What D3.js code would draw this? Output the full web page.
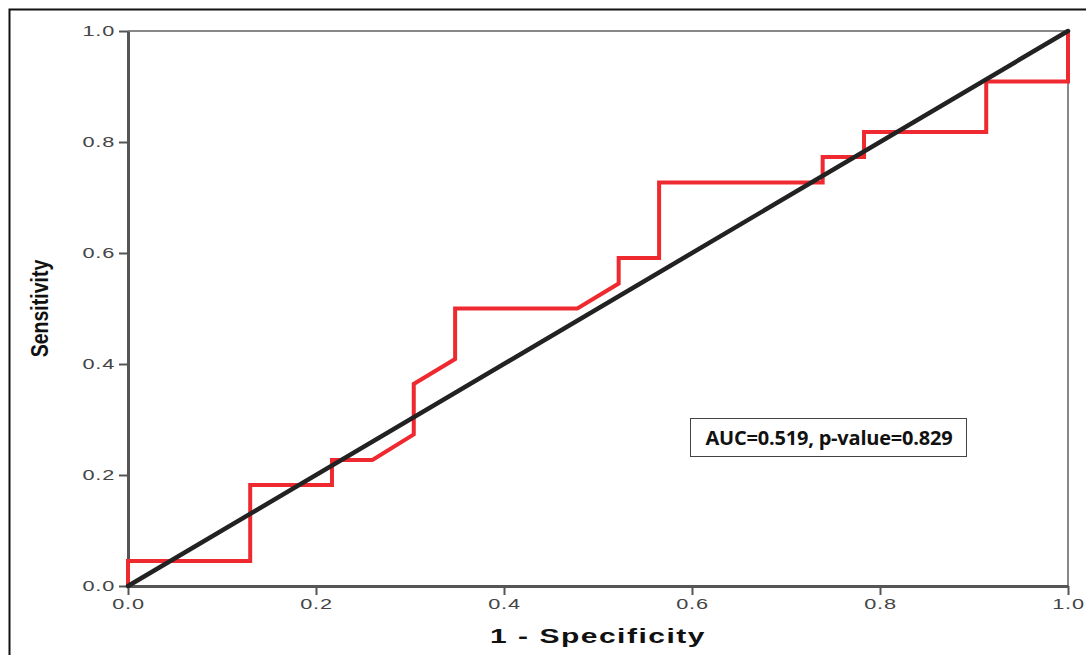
<!DOCTYPE html>
<html>
<head>
<meta charset="utf-8">
<script src="https://cdn.jsdelivr.net/npm/d3@7"></script>
<style>
  body { margin: 0; background: #fff; }
  svg { display: block; }
</style>
</head>
<body>
<div id="chart"></div>
<script>
// ROC curve points (1 - specificity, sensitivity)
var fpr = [0, 0, 0.13, 0.13, 0.217, 0.217, 0.26, 0.304, 0.304, 0.348, 0.348, 0.478, 0.522, 0.522, 0.565, 0.565, 0.739, 0.739, 0.783, 0.783, 0.913, 0.913, 1.0, 1.0];
var tpr = [0, 0.045, 0.045, 0.182, 0.182, 0.227, 0.227, 0.273, 0.364, 0.409, 0.5, 0.5, 0.545, 0.591, 0.591, 0.727, 0.727, 0.773, 0.773, 0.818, 0.818, 0.909, 0.909, 1.0];
var refLine = [0, 1];
var tickValues = [0, 0.2, 0.4, 0.6, 0.8, 1.0];
var annotation = 'AUC=0.519, p-value=0.829';

var width = 1086;
var height = 655;
var margin = { top: 31, right: 18, bottom: 69, left: 128 };
var stretch = 1.5; // the source image text is horizontally stretched

var svg = d3.select('#chart')
  .append('svg')
  .attr('width', width)
  .attr('height', height);

// outer frame
svg.append('rect')
  .attr('x', 9.5).attr('y', 9.5)
  .attr('width', width + 20).attr('height', height + 20)
  .attr('fill', 'none')
  .attr('stroke', '#111')
  .attr('stroke-width', 2);

var x = d3.scaleLinear().domain([0, 1]).range([margin.left, width - margin.right]);
var y = d3.scaleLinear().domain([0, 1]).range([height - margin.bottom, margin.top]);

// top and right frame of plot
svg.append('path')
  .attr('d', `M${x(0)},${y(1)}H${x(1)}V${y(0)}`)
  .attr('fill', 'none')
  .attr('stroke', '#888')
  .attr('stroke-width', 2);

var fmt = d3.format('.1f');

var xAxis = svg.append('g')
  .attr('transform', `translate(0, ${y(0)})`)
  .call(d3.axisBottom(x).tickValues(tickValues).tickFormat(fmt).tickSize(9).tickSizeOuter(0));

var yAxis = svg.append('g')
  .attr('transform', `translate(${x(0)}, 0)`)
  .call(d3.axisLeft(y).tickValues(tickValues).tickFormat(fmt).tickSize(9).tickSizeOuter(0));

[xAxis, yAxis].forEach(function(g) {
  g.select('.domain').attr('stroke', '#555').attr('stroke-width', 3);
  g.selectAll('.tick line').attr('stroke', '#555').attr('stroke-width', 2);
  g.selectAll('.tick text')
    .attr('fill', '#444')
    .style('font-family', 'Liberation Sans, Arial, sans-serif')
    .style('font-size', '14.5px')
    .style('letter-spacing', '0.5px');
});
xAxis.selectAll('.tick text')
  .attr('y', 13)
  .attr('transform', `scale(${stretch},1)`);
yAxis.selectAll('.tick text')
  .attr('x', -13 / stretch)
  .attr('transform', `scale(${stretch},1)`);

// ROC curve
var roc = fpr.map(function(d, i) { return { fpr: d, tpr: tpr[i] }; });

var line = d3.line()
  .x(d => x(d.fpr))
  .y(d => y(d.tpr));

svg.append('path')
  .datum(roc)
  .attr('d', line)
  .attr('fill', 'none')
  .attr('stroke', '#ee2a30')
  .attr('stroke-width', 4)
  .attr('stroke-linejoin', 'miter');

// reference line
svg.append('line')
  .attr('x1', x(refLine[0])).attr('y1', y(refLine[0]))
  .attr('x2', x(refLine[1])).attr('y2', y(refLine[1]))
  .attr('stroke', '#222')
  .attr('stroke-width', 4.5)
  .attr('stroke-linecap', 'round');

// axis titles
svg.append('text')
  .attr('transform', `translate(${(x(0) + x(1)) / 2}, 643) scale(${stretch},1)`)
  .attr('text-anchor', 'middle')
  .attr('fill', '#111')
  .style('font-family', 'Liberation Sans, Arial, sans-serif')
  .style('font-weight', 'bold')
  .style('font-size', '20px')
  .style('letter-spacing', '1px')
  .text('1 - Specificity');

svg.append('text')
  .attr('transform', `translate(48, ${(y(0) + y(1)) / 2}) rotate(-90) scale(0.85,1)`)
  .attr('text-anchor', 'middle')
  .attr('fill', '#111')
  .style('font-family', 'Liberation Sans Narrow, Arial Narrow, sans-serif')
  .style('font-weight', 'bold')
  .style('font-size', '23px')
  .text('Sensitivity');

// annotation box
var box = svg.append('g');
box.append('rect')
  .attr('x', 690.5).attr('y', 418.5)
  .attr('width', 276).attr('height', 38)
  .attr('fill', '#fff')
  .attr('stroke', '#444')
  .attr('stroke-width', 1);
box.append('text')
  .attr('x', 829)
  .attr('y', 445)
  .attr('text-anchor', 'middle')
  .attr('fill', '#111')
  .style('font-family', 'Open Sans, sans-serif')
  .style('font-weight', 'bold')
  .style('font-size', '20px')
  .style('letter-spacing', '-0.2px')
  .text(annotation);
</script>
</body>
</html>
